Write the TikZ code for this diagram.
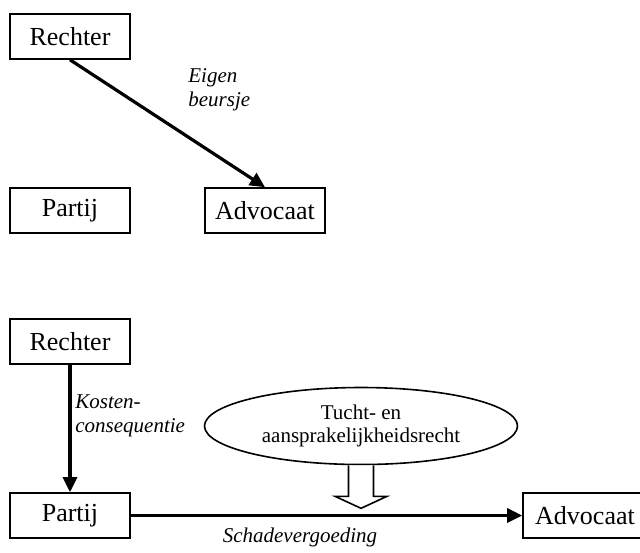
\documentclass[tikz,border=0pt]{standalone}
\usepackage{fontspec}
\setmainfont{Liberation Serif}
\usetikzlibrary{arrows.meta, shapes.geometric}

\begin{document}
\begin{tikzpicture}[x=0.5pt, y=-0.5pt,
  party/.style={draw, line width=0.8pt, minimum width=60pt, minimum height=22.5pt, inner sep=0pt, font=\fontsize{13}{15}\selectfont},
  duty/.style={line width=1.6pt, -{Triangle[length=7.5pt, width=7pt]}},
  remark/.style={inner sep=0pt, align=left, font=\fontsize{10.5}{12}\selectfont\itshape},
  hollow/.style={line width=0.8pt, fill=white, line join=miter}]
\useasboundingbox (0,0) rectangle (640,552);
% upper scheme
\node[party] (rechterA) at (70,36.5) {Rechter};
\node[party] (partijA) at (70,210.5) {Partij};
\node[party] (advocaatA) at (265,210.5) {Advocaat};
\draw[duty] (rechterA.south) -- (advocaatA.north);
\node[remark, anchor=north west] (eigen) at (188,68) {Eigen\\beursje};
% lower scheme
\node[party] (rechterB) at (70,341.5) {Rechter};
\node[party] (partijB) at (70,515.5) {Partij};
\node[party, minimum width=62pt] (advocaatB) at (585,515.5) {Advocaat};
\draw[duty] (rechterB.south) -- (partijB.north);
\draw[duty] (partijB.east) -- (advocaatB.west);
\node[remark, anchor=north west] (kosten) at (75,394) {Kosten-\\consequentie};
\node[remark, anchor=base] (schade) at (300,542) {Schadevergoeding};
\node[draw, ellipse, line width=0.8pt, minimum width=156.5pt, minimum height=38.5pt, inner sep=0pt, align=center, font=\fontsize{10.5}{11.5}\selectfont] (tucht) at (361,426) {Tucht- en\\aansprakelijkheidsrecht};
\draw[hollow] (tucht.south) ++(-12.5,0) -- ++(0,31) -- ++(-13.5,0) -- ++(26,12) -- ++(26,-12) -- ++(-13.5,0) -- ++(0,-31);
\end{tikzpicture}
\end{document}
